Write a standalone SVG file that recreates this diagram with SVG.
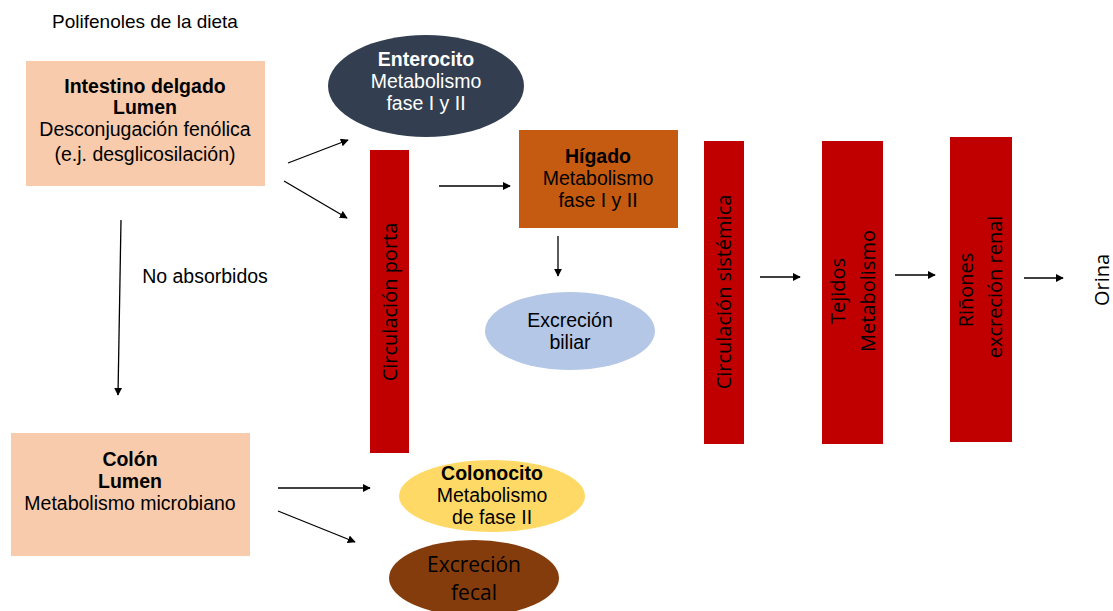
<svg xmlns="http://www.w3.org/2000/svg" width="1113" height="611" viewBox="0 0 1113 611">
<style>
.a{font-family:"Liberation Sans",Arial,sans-serif;font-size:19.5px;fill:#000;text-anchor:middle}
.b{font-weight:bold}
.w{fill:#fff}
.c{font-family:"Open Sans","Noto Sans",sans-serif;font-size:20px;fill:#000;text-anchor:middle}
.bar{fill:#C00000}
.ln{stroke:#000;stroke-width:1.3;fill:none;marker-end:url(#ah)}
</style>
<defs>
<marker id="ah" viewBox="0 0 10 10" refX="9" refY="5" markerWidth="8" markerHeight="8" markerUnits="userSpaceOnUse" orient="auto">
<path d="M0,0 L10,5 L0,10 z" fill="#000"/>
</marker>
</defs>
<rect width="1113" height="611" fill="#fff"/>
<text class="a" x="145" y="28" style="font-size:19px">Polifenoles de la dieta</text>
<g id="intestino">
<rect x="26" y="61" width="239" height="125" fill="#F8CBAD"/>
<text class="a b" x="145" y="93">Intestino delgado</text>
<text class="a b" x="145" y="114">Lumen</text>
<text class="a" x="145" y="136">Desconjugación fenólica</text>
<text class="a" x="145" y="161">(e.j. desglicosilación)</text>
</g>
<g id="enterocito">
<ellipse cx="426" cy="86" rx="98" ry="51" fill="#333F50"/>
<text class="a b w" x="426" y="66">Enterocito</text>
<text class="a w" x="426" y="88">Metabolismo</text>
<text class="a w" x="426" y="110">fase I y II</text>
</g>
<g id="porta">
<rect class="bar" x="370" y="150" width="39" height="303"/>
<text class="c" transform="translate(397,302) rotate(-90)">Circulación porta</text>
</g>
<g id="higado">
<rect x="519" y="130" width="159" height="98" fill="#C55A11"/>
<text class="a b" x="598" y="163">Hígado</text>
<text class="a" x="598" y="185">Metabolismo</text>
<text class="a" x="598" y="207">fase I y II</text>
</g>
<g id="biliar">
<ellipse cx="570" cy="331" rx="85" ry="39" fill="#B4C7E7"/>
<text class="a" x="570" y="327">Excreción</text>
<text class="a" x="570" y="349">biliar</text>
</g>
<g id="sistemica">
<rect class="bar" x="704" y="141" width="40" height="303"/>
<text class="c" transform="translate(731,292) rotate(-90)">Circulación sistémica</text>
</g>
<g id="tejidos">
<rect class="bar" x="822" y="141" width="61" height="303"/>
<text class="c" transform="translate(845,291) rotate(-90)">Tejidos</text>
<text class="c" transform="translate(875,291) rotate(-90)">Metabolismo</text>
</g>
<g id="rinones">
<rect class="bar" x="950" y="137" width="62" height="305"/>
<text class="c" transform="translate(973,290) rotate(-90)">Riñones</text>
<text class="c" transform="translate(1002,287) rotate(-90)">excreción renal</text>
</g>
<g id="orina">
<text class="c" transform="translate(1109,280) rotate(-90)">Orina</text>
</g>
<g id="colon">
<rect x="11" y="433" width="239" height="123" fill="#F8CBAD"/>
<text class="a b" x="130" y="466">Colón</text>
<text class="a b" x="130" y="488">Lumen</text>
<text class="a" x="130" y="510">Metabolismo microbiano</text>
</g>
<g id="colonocito">
<ellipse cx="492" cy="496" rx="93" ry="36" fill="#FFD966"/>
<text class="a b" x="492" y="480">Colonocito</text>
<text class="a" x="492" y="502">Metabolismo</text>
<text class="a" x="492" y="524">de fase II</text>
</g>
<g id="fecal">
<ellipse cx="474" cy="578" rx="85" ry="38" fill="#843C0C"/>
<text class="c w" x="474" y="572" style="font-size:21px">Excreción</text>
<text class="c w" x="474" y="600" style="font-size:21px">fecal</text>
</g>
<g id="connectors">
<line class="ln" x1="288" y1="163" x2="348" y2="140"/>
<line class="ln" x1="284" y1="181" x2="347" y2="218"/>
<line class="ln" x1="439" y1="186" x2="510" y2="186"/>
<line class="ln" x1="558" y1="236" x2="558" y2="276"/>
<line class="ln" x1="760" y1="277" x2="800" y2="277"/>
<line class="ln" x1="895" y1="275" x2="935" y2="275"/>
<line class="ln" x1="1024" y1="278" x2="1063" y2="278"/>
<line class="ln" x1="121" y1="220" x2="118" y2="395"/>
<line class="ln" x1="278" y1="488" x2="370" y2="488"/>
<line class="ln" x1="278" y1="511" x2="355" y2="542"/>
<text class="a" x="205" y="283">No absorbidos</text>
</g>
</svg>
